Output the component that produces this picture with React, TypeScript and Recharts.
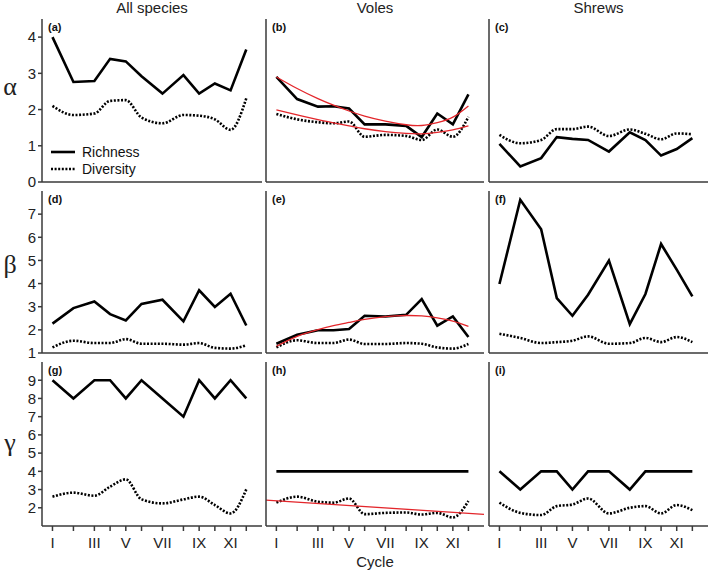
import { LineChart, Line, XAxis, YAxis, Legend } from "recharts";

// cycle positions on the time axis (uneven spacing between cycles)
const cyclePos = [0, 4, 8, 11, 14, 17, 21, 25, 28, 31, 34, 37];
const cycleLabels = ["I", "", "III", "", "V", "", "VII", "", "IX", "", "XI", ""];

const alphaTicks = [0, 1, 2, 3, 4];
const betaTicks = [1, 2, 3, 4, 5, 6, 7];
const gammaTicks = [2, 3, 4, 5, 6, 7, 8, 9];

// (a) all species, alpha
const allAlphaRich = [4.0, 2.76, 2.79, 3.4, 3.33, 2.92, 2.44, 2.95, 2.44, 2.72, 2.53, 3.66];
const allAlphaDiv = [2.1, 1.85, 1.89, 2.24, 2.26, 1.78, 1.62, 1.85, 1.83, 1.73, 1.44, 2.31];
// (b) voles, alpha + fitted curves
const voleAlphaRich = [2.9, 2.29, 2.08, 2.09, 2.03, 1.59, 1.59, 1.55, 1.24, 1.89, 1.59, 2.42];
const voleAlphaDiv = [1.88, 1.73, 1.65, 1.62, 1.67, 1.25, 1.3, 1.27, 1.16, 1.45, 1.25, 1.8];
const voleAlphaRichFit = [2.9, 2.58, 2.3, 2.12, 1.96, 1.82, 1.68, 1.58, 1.56, 1.64, 1.79, 2.1];
const voleAlphaDivFit = [1.99, 1.85, 1.72, 1.63, 1.55, 1.47, 1.39, 1.34, 1.33, 1.37, 1.44, 1.55];
// (c) shrews, alpha
const shrewAlphaRich = [1.05, 0.43, 0.66, 1.24, 1.19, 1.16, 0.84, 1.37, 1.16, 0.73, 0.91, 1.21];
const shrewAlphaDiv = [1.3, 1.07, 1.16, 1.46, 1.46, 1.53, 1.27, 1.45, 1.33, 1.18, 1.34, 1.32];

// (d) all species, beta
const allBetaRich = [2.27, 2.94, 3.23, 2.68, 2.41, 3.12, 3.3, 2.37, 3.71, 2.99, 3.56, 2.19];
const allBetaDiv = [1.24, 1.53, 1.43, 1.43, 1.6, 1.4, 1.4, 1.36, 1.43, 1.22, 1.19, 1.33];
// (e) voles, beta + fitted curve
const voleBetaRich = [1.4, 1.79, 1.98, 1.98, 2.04, 2.61, 2.58, 2.65, 3.33, 2.18, 2.58, 1.69];
const voleBetaDiv = [1.24, 1.55, 1.43, 1.43, 1.58, 1.39, 1.39, 1.43, 1.4, 1.24, 1.19, 1.39];
const voleBetaRichFit = [1.29, 1.72, 2.01, 2.18, 2.32, 2.45, 2.57, 2.62, 2.6, 2.52, 2.38, 2.15];
// (f) shrews, beta
const shrewBetaRich = [3.98, 7.62, 6.35, 3.37, 2.61, 3.52, 4.99, 2.25, 3.55, 5.71, 4.6, 3.45];
const shrewBetaDiv = [1.83, 1.65, 1.43, 1.47, 1.53, 1.72, 1.4, 1.43, 1.65, 1.47, 1.69, 1.47];

// (g) all species, gamma
const allGammaRich = [9, 8, 9, 9, 8, 9, 8, 7, 9, 8, 9, 8];
const allGammaDiv = [2.61, 2.83, 2.66, 3.16, 3.56, 2.46, 2.24, 2.46, 2.61, 2.15, 1.69, 3.01];
// (h) voles, gamma + linear trend (ends of the x range)
const voleGammaRich = [4, 4, 4, 4, 4, 4, 4, 4, 4, 4, 4, 4];
const voleGammaDiv = [2.28, 2.61, 2.33, 2.28, 2.51, 1.65, 1.72, 1.74, 1.63, 1.72, 1.47, 2.37];
const voleGammaTrendX = [-2, 40];
const voleGammaTrendY = [2.42, 1.64];
// (i) shrews, gamma
const shrewGammaRich = [4, 3, 4, 4, 3, 4, 4, 3, 4, 4, 4, 4];
const shrewGammaDiv = [2.28, 1.72, 1.6, 2.09, 2.18, 2.51, 1.69, 2.0, 2.09, 1.69, 2.15, 1.87];

const colTitles = ["All species", "Voles", "Shrews"];
const rowSymbols = ["α", "β", "γ"];
const symbolTops = [72, 250, 428];

const COLS = [
  [42, 262],
  [266, 484],
  [489, 708],
];
const ROWS = [
  [19, 182],
  [191, 353],
  [362, 526],
];
const ROW_Y = [
  { domain: [0, 4.5], ticks: alphaTicks },
  { domain: [1, 8], ticks: betaTicks },
  { domain: [1, 10], ticks: gammaTicks },
];

const AXIS = "#3a3a3a";
const RED = "#e3262b";
const FONT = "'Liberation Sans', Arial, sans-serif";

type PanelProps = {
  col: number;
  row: number;
  label: string;
  rich: number[];
  div: number[];
  fits?: number[][];
  trend?: { x: number[]; y: number[] };
  legend?: boolean;
};

const LegendBox = () => (
  <div style={{ fontSize: 14, lineHeight: "16.5px", color: "#111" }}>
    {[
      { name: "Richness", dash: undefined },
      { name: "Diversity", dash: "2 1.6" },
    ].map((it) => (
      <div key={it.name} style={{ display: "flex", alignItems: "center", height: 16.5 }}>
        <svg width={28} height={10} style={{ marginRight: 4 }}>
          <line x1={1} y1={5} x2={25} y2={5} stroke="#000" strokeWidth={2.6} strokeDasharray={it.dash} />
        </svg>
        <span>{it.name}</span>
      </div>
    ))}
  </div>
);

const Panel = ({ col, row, label, rich, div, fits, trend, legend }: PanelProps) => {
  const [x0, x1] = COLS[col];
  const [y0, y1] = ROWS[row];
  const yW = col === 0 ? 42 : 10;
  const xH = row === 2 ? 32 : 8;
  const pad = 2;
  const width = yW + (x1 - x0) + pad;
  const height = pad + (y1 - y0) + xH;
  const data = cyclePos.map((x, i) => ({
    x,
    rich: rich[i],
    div: div[i],
    fitR: fits ? fits[0][i] : undefined,
    fitD: fits && fits[1] ? fits[1][i] : undefined,
  }));
  const trendData = trend ? trend.x.map((x, i) => ({ x, t: trend.y[i] })) : [];
  const yCfg = ROW_Y[row];

  return (
    <div style={{ position: "absolute", left: x0 - yW, top: y0 - pad }}>
      <LineChart width={width} height={height} data={data} margin={{ top: pad, right: pad, bottom: 0, left: 0 }}>
        <XAxis
          dataKey="x"
          type="number"
          domain={[-2, 40]}
          ticks={cyclePos}
          interval={0}
          height={xH}
          stroke={AXIS}
          strokeWidth={1.5}
          tickSize={5}
          tickMargin={6}
          tick={row === 2 ? { fontSize: 15, fill: "#222" } : false}
          tickFormatter={(v: number) => cycleLabels[cyclePos.indexOf(v)] ?? ""}
        />
        <XAxis xAxisId="top" orientation="top" type="number" domain={[-2, 40]} height={0} tick={false} tickLine={false} stroke={AXIS} strokeWidth={1.5} />
        <YAxis
          type="number"
          domain={yCfg.domain}
          ticks={yCfg.ticks}
          interval={0}
          width={yW}
          stroke={AXIS}
          strokeWidth={1.5}
          tickSize={4}
          tickMargin={2}
          tick={col === 0 ? { fontSize: 15, fill: "#222" } : false}
        />
        <YAxis yAxisId="right" orientation="right" width={0} tick={false} tickLine={false} stroke={AXIS} strokeWidth={1.5} />
        <Line dataKey="rich" type="linear" stroke="#000" strokeWidth={2.6} dot={false} isAnimationActive={false} />
        <Line dataKey="div" type="monotone" stroke="#000" strokeWidth={2.6} strokeDasharray="2 1.6" dot={false} isAnimationActive={false} />
        {fits && (
          <Line dataKey="fitR" type="natural" stroke={RED} strokeWidth={1.3} dot={false} legendType="none" isAnimationActive={false} />
        )}
        {fits && fits[1] && (
          <Line dataKey="fitD" type="natural" stroke={RED} strokeWidth={1.3} dot={false} legendType="none" isAnimationActive={false} />
        )}
        {trend && (
          <Line data={trendData} dataKey="t" type="linear" stroke={RED} strokeWidth={1.3} dot={false} legendType="none" isAnimationActive={false} />
        )}
        {legend && (
          <Legend
            layout="vertical"
            align="center"
            verticalAlign="middle"
            content={() => <LegendBox />}
            wrapperStyle={{ left: yW + 8, top: 127, width: 120, height: 33 }}
          />
        )}
      </LineChart>
      <div
        style={{
          position: "absolute",
          left: yW + 6,
          top: pad + 2,
          fontSize: 11,
          fontWeight: "bold",
          color: "#111",
        }}
      >
        {label}
      </div>
    </div>
  );
};

export default function App() {
  return (
    <div
      style={{
        position: "absolute",
        left: 0,
        top: 0,
        width: 709,
        height: 573,
        background: "#fff",
        fontFamily: FONT,
      }}
    >
      {colTitles.map((t, i) => (
        <div
          key={t}
          style={{
            position: "absolute",
            left: COLS[i][0],
            width: COLS[i][1] - COLS[i][0],
            top: -1,
            textAlign: "center",
            fontSize: 15,
            color: "#222",
          }}
        >
          {t}
        </div>
      ))}
      {rowSymbols.map((s, i) => (
        <div
          key={s}
          style={{
            position: "absolute",
            left: 0,
            width: 20,
            top: symbolTops[i],
            textAlign: "center",
            fontSize: 26,
            fontFamily: "'Liberation Serif', 'DejaVu Serif', serif",
            color: "#222",
          }}
        >
          {s}
        </div>
      ))}

      <Panel col={0} row={0} label="(a)" rich={allAlphaRich} div={allAlphaDiv} legend />
      <Panel col={1} row={0} label="(b)" rich={voleAlphaRich} div={voleAlphaDiv} fits={[voleAlphaRichFit, voleAlphaDivFit]} />
      <Panel col={2} row={0} label="(c)" rich={shrewAlphaRich} div={shrewAlphaDiv} />
      <Panel col={0} row={1} label="(d)" rich={allBetaRich} div={allBetaDiv} />
      <Panel col={1} row={1} label="(e)" rich={voleBetaRich} div={voleBetaDiv} fits={[voleBetaRichFit]} />
      <Panel col={2} row={1} label="(f)" rich={shrewBetaRich} div={shrewBetaDiv} />
      <Panel col={0} row={2} label="(g)" rich={allGammaRich} div={allGammaDiv} />
      <Panel
        col={1}
        row={2}
        label="(h)"
        rich={voleGammaRich}
        div={voleGammaDiv}
        trend={{ x: voleGammaTrendX, y: voleGammaTrendY }}
      />
      <Panel col={2} row={2} label="(i)" rich={shrewGammaRich} div={shrewGammaDiv} />

      <div
        style={{
          position: "absolute",
          left: COLS[1][0],
          width: COLS[1][1] - COLS[1][0],
          top: 553,
          textAlign: "center",
          fontSize: 15,
          color: "#222",
        }}
      >
        Cycle
      </div>
    </div>
  );
}
